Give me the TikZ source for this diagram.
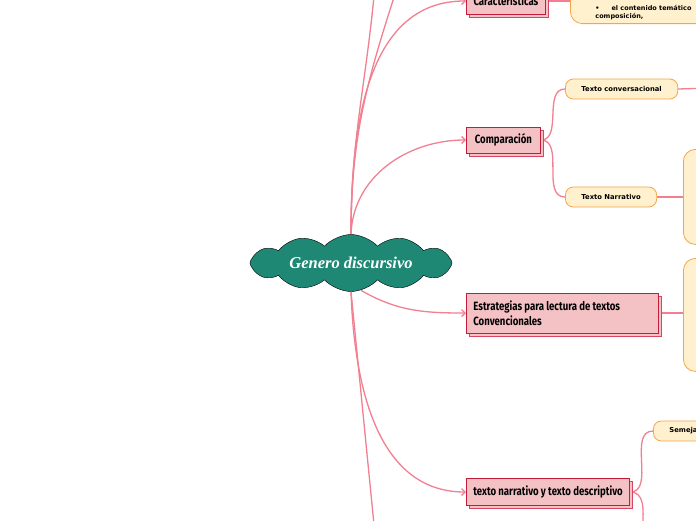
\documentclass[tikz,border=0pt]{standalone}
\usepackage{fontspec}
\setmainfont{DejaVu Sans}
\newfontfamily\boxfont[FakeStretch=0.8]{Fira Sans}
\newfontfamily\cloudfont{Liberation Serif}
\usetikzlibrary{arrows.meta,positioning,shapes.symbols,shadows,backgrounds}

\definecolor{linkpink}{RGB}{242,128,145}
\definecolor{boxred}{RGB}{196,28,58}
\definecolor{shadowred}{RGB}{214,70,98}
\definecolor{boxfill}{RGB}{244,194,197}
\definecolor{pillorange}{RGB}{247,165,72}
\definecolor{pillfill}{RGB}{255,240,206}
\definecolor{cloudteal}{RGB}{31,136,116}

\begin{document}
\begin{tikzpicture}[x=1pt, y=1pt, >={Straight Barb[length=3.5pt,width=7pt]}]
  \tikzstyle{topic}=[draw=boxred, fill=boxfill, line width=0.8pt, anchor=west, align=flush left, inner xsep=7pt,
    copy shadow={shadow xshift=3pt, shadow yshift=-3pt, draw=shadowred, fill=boxfill},
    font=\boxfont\bfseries\fontsize{12}{15}\selectfont]
  \tikzstyle{sub}=[draw=pillorange, fill=pillfill, line width=0.8pt, rounded corners=8pt, anchor=west,
    minimum height=20pt, inner xsep=16pt, font=\bfseries\fontsize{6.8}{8}\selectfont]
  \tikzstyle{note}=[draw=pillorange, fill=pillfill, line width=0.8pt, rounded corners=12pt, minimum width=80pt]
  \tikzstyle{link}=[draw=linkpink, line width=1.3pt]

  \useasboundingbox (0,0) rectangle (696,-520);
  \clip (0,0) rectangle (696,-520);

  % central idea
  \node[cloud, cloud puffs=12, cloud puff arc=95, cloud ignores aspect, draw, fill=cloudteal,
    minimum width=202pt, minimum height=57pt, inner sep=0pt,
    text=white, font=\cloudfont\bfseries\itshape\fontsize{16.5}{20}\selectfont] (root) at (351,-263) {Genero discursivo};

  % main topics
  \node[topic, minimum width=79pt, minimum height=26pt] (carac) at (466,-1) {Características};
  \node[topic, minimum width=74pt, minimum height=26pt] (compar) at (466,-140) {Comparación};
  \node[topic, minimum width=192pt, minimum height=40pt, text width=178pt] (estrat) at (466,-313)
    {Estrategias para lectura de textos\\Convencionales};
  \node[topic, minimum width=162pt, minimum height=27pt] (tnd) at (466,-492) {texto narrativo y texto descriptivo};

  % subtopics
  \node[note, anchor=south west, inner xsep=25pt, inner ysep=4pt, align=left,
    font=\bfseries\fontsize{6.5}{8}\selectfont] (caracnote) at (570,-24)
    {\parbox[b][40pt][b]{170pt}{\textbullet\hspace{12pt}el contenido temático\\[-0.5pt]composición,}};
  \node[sub] (conv) at (565,-89) {Texto conversacional};
  \node[sub] (narr) at (565,-197) {Texto Narrativo};
  \node[note, anchor=north west, minimum height=95pt] (narrnote) at (683,-149) {};
  \node[note, anchor=north west, minimum height=113pt] (estratnote) at (683,-258) {};
  \node[sub] (semej) at (653,-431) {Semejanzas};

  \coordinate (topA) at (375,15);
  \coordinate (topB) at (398,15);
  \coordinate (lowA) at (376,-545);
  \coordinate (convend) at (710,-88);
  \coordinate (lowend) at (655,-562);

  \begin{scope}[on background layer]
    \fill[white] (0,0) rectangle (696,-520);
    \clip (0,0) rectangle (696,-520);
    \draw[link] (root.north) to[out=90,in=-95] (topA);
    \draw[link] (root.north) to[out=90,in=-108] (topB);
    \draw[link,->] (root.north) to[out=90,in=180] (carac.west);
    \draw[link,->] (root.north) to[out=88,in=180] (compar.west);
    \draw[link,->] (root.-70) to[out=-30,in=180] (estrat.west);
    \draw[link,->] (root.south) to[out=-88,in=180] (tnd.west);
    \draw[link] (root.south) -- (lowA);

    \draw[link] (carac.east) -- (carac.east -| caracnote.west);
    \draw[link] (compar.east) to[out=0,in=180] (conv.west);
    \draw[link] (compar.east) to[out=0,in=180] (narr.west);
    \draw[link] (conv.east) -- (convend);
    \draw[link] (narr.east) -- (narr.east -| narrnote.west);
    \draw[link] (estrat.east) -- (estrat.east -| estratnote.west);
    \draw[link] (tnd.east) to[out=0,in=180] (semej.west);
    \draw[link] (tnd.east) to[out=0,in=180] (lowend);
  \end{scope}
\end{tikzpicture}
\end{document}
